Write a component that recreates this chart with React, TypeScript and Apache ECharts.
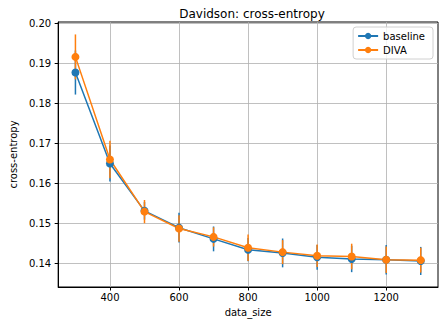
import React, { useEffect, useRef } from "react";
import * as echarts from "echarts";

const dataSizes = [300, 400, 500, 600, 700, 800, 900, 1000, 1100, 1200, 1300];
const baseline = [0.1877, 0.165, 0.1532, 0.149, 0.1462, 0.1435, 0.1427, 0.1416, 0.1412, 0.141, 0.1407];
const baselineErr = [0.0055, 0.0045, 0.0022, 0.0037, 0.0031, 0.0029, 0.0036, 0.0031, 0.0033, 0.0037, 0.0035];
const diva = [0.1916, 0.166, 0.153, 0.1488, 0.1467, 0.144, 0.1429, 0.142, 0.1418, 0.141, 0.1409];
const divaErr = [0.0056, 0.0047, 0.0029, 0.0033, 0.0024, 0.0033, 0.003, 0.0028, 0.0032, 0.0033, 0.0031];
const xTicks = [400, 600, 800, 1000, 1200];
const yTicks = [0.14, 0.15, 0.16, 0.17, 0.18, 0.19, 0.2];

const BLUE = "#1f77b4";
const ORANGE = "#ff7f0e";
const FONT = "DejaVu Sans";

function errSeries(name: string, vals: number[], errs: number[], color: string) {
  return {
    type: "custom",
    name,
    data: dataSizes.map((x, i) => [x, vals[i] - errs[i], vals[i] + errs[i]]),
    encode: { x: 0, y: [1, 2] },
    renderItem: (params: any, api: any) => {
      const p1 = api.coord([api.value(0), api.value(1)]);
      const p2 = api.coord([api.value(0), api.value(2)]);
      return {
        type: "line",
        shape: { x1: p1[0], y1: p1[1], x2: p2[0], y2: p2[1] },
        style: { stroke: color, lineWidth: 1.5 },
      };
    },
    silent: true,
  };
}

function lineSeries(name: string, vals: number[], color: string) {
  return {
    type: "line",
    name,
    data: dataSizes.map((x, i) => [x, vals[i]]),
    symbol: "circle",
    symbolSize: 8,
    showSymbol: true,
    lineStyle: { color, width: 1.5 },
    itemStyle: { color },
  };
}

export default function App() {
  const ref = useRef<HTMLDivElement>(null);
  useEffect(() => {
    if (!ref.current) return;
    const chart = echarts.init(ref.current, undefined, { renderer: "svg" });
    chart.setOption({
      animation: false,
      title: {
        text: "Davidson: cross-entropy",
        left: 247,
        top: 3,
        textAlign: "center",
        textStyle: { fontFamily: FONT, fontSize: 12, fontWeight: "normal", color: "#000" },
      },
      legend: {
        data: ["baseline", "DIVA"],
        orient: "vertical",
        right: 13,
        top: 27,
        itemWidth: 20,
        itemHeight: 8,
        itemGap: 4,
        padding: [4, 8, 4, 4],
        borderColor: "#d0d0d0",
        borderWidth: 1,
        borderRadius: 3,
        backgroundColor: "rgba(255,255,255,0.8)",
        textStyle: { fontFamily: FONT, fontSize: 10, color: "#000" },
      },
      grid: {
        left: 58,
        right: 8,
        top: 22,
        bottom: 33,
        show: true,
        borderColor: "#000",
        borderWidth: 1,
        containLabel: false,
      },
      xAxis: {
        type: "value",
        min: 250,
        max: 1350,
        name: "data_size",
        nameLocation: "middle",
        nameGap: 20,
        nameTextStyle: { fontFamily: FONT, fontSize: 10, color: "#000" },
        axisLine: { show: true, lineStyle: { color: "#000" } },
        axisTick: { show: true, customValues: xTicks, length: 3.5, lineStyle: { color: "#000" } },
        axisLabel: {
          customValues: xTicks,
          fontFamily: FONT,
          fontSize: 10,
          color: "#000",
          margin: 5,
          formatter: (v: number) => String(v),
        },
        splitLine: { show: true, lineStyle: { color: "#b0b0b0", width: 0.8 } },
      },
      yAxis: {
        type: "value",
        min: 0.1342,
        max: 0.2003,
        name: "cross-entropy",
        nameLocation: "middle",
        nameGap: 29,
        nameTextStyle: { fontFamily: FONT, fontSize: 10, color: "#000" },
        axisLine: { show: true, lineStyle: { color: "#000" } },
        axisTick: { show: true, customValues: yTicks, length: 3.5, lineStyle: { color: "#000" } },
        axisLabel: {
          customValues: yTicks,
          fontFamily: FONT,
          fontSize: 10,
          color: "#000",
          margin: 7,
          formatter: (v: number) => v.toFixed(2),
        },
        splitLine: { show: true, lineStyle: { color: "#b0b0b0", width: 0.8 } },
      },
      series: [
        errSeries("baseline-err", baseline, baselineErr, BLUE),
        lineSeries("baseline", baseline, BLUE),
        errSeries("DIVA-err", diva, divaErr, ORANGE),
        lineSeries("DIVA", diva, ORANGE),
      ],
    });
    return () => chart.dispose();
  }, []);
  return <div ref={ref} style={{ width: 446, height: 322, position: "absolute", left: 0, top: 0 }} />;
}
